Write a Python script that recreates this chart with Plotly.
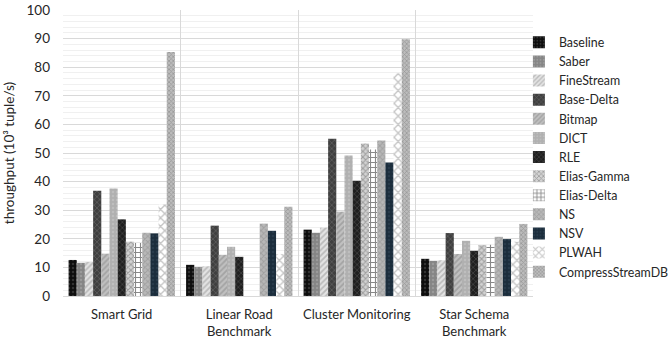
import plotly.graph_objects as go

categories = ["Smart Grid", "Linear Road<br>Benchmark", "Cluster Monitoring", "Star Schema<br>Benchmark"]
series_names = ["Baseline", "Saber", "FineStream", "Base-Delta", "Bitmap", "DICT", "RLE",
                "Elias-Gamma", "Elias-Delta", "NS", "NSV", "PLWAH", "CompressStreamDB"]
baseline = [12.6, 10.9, 23.2, 13.0]
saber = [11.6, 10.2, 22.1, 12.3]
finestream = [11.9, 10.4, 23.9, 12.5]
base_delta = [36.8, 24.6, 55.0, 22.0]
bitmap = [14.8, 14.4, 29.5, 14.7]
dict_ = [37.6, 17.2, 49.1, 19.3]
rle = [26.8, 13.7, 40.3, 15.8]
elias_gamma = [19.0, 0, 53.3, 17.8]
elias_delta = [18.6, 0, 51.2, 17.9]
ns = [22.1, 25.3, 54.4, 20.7]
nsv = [21.9, 22.8, 46.7, 19.9]
plwah = [32.0, 14.7, 77.9, 19.0]
compressstreamdb = [85.3, 31.2, 89.8, 25.2]
y_ticks = [0, 10, 20, 30, 40, 50, 60, 70, 80, 90, 100]

values = [baseline, saber, finestream, base_delta, bitmap, dict_, rle,
          elias_gamma, elias_delta, ns, nsv, plwah, compressstreamdb]

# (bgcolor, fgcolor, shape, size, solidity)
styles = [
    ("#0d0d0d", "#555555", ".", 4, 0.3),
    ("#858585", "#adadad", ".", 4, 0.3),
    ("#e3e3e3", "#939393", "/", 4, 0.45),
    ("#3f3f3f", "#767676", "x", 4, 0.4),
    ("#c0c0c0", "#858585", "/", 4, 0.45),
    ("#b0b0b0", "#cccccc", ".", 4, 0.3),
    ("#1f1f1f", "#666666", "x", 4, 0.35),
    ("#d3d3d3", "#666666", "x", 4, 0.45),
    ("#ffffff", "#111111", "+", 5, 0.4),
    ("#b8b8b8", "#888888", "x", 4, 0.45),
    ("#1b2d3c", "#33485a", ".", 4, 0.3),
    ("#ffffff", "#8c8c8c", "x", 6, 0.4),
    ("#bcbcbc", "#777777", "x", 3, 0.45),
]

fig = go.Figure()
for name, vals, (bg, fg, shape, size, sol) in zip(series_names, values, styles):
    fig.add_trace(go.Bar(
        name=name, x=categories, y=vals,
        marker=dict(color=bg, line=dict(width=0),
                    pattern=dict(shape=shape, fgcolor=fg, bgcolor=bg, size=size,
                                 solidity=sol, fillmode="overlay")),
    ))

font_family = "Lato, 'Open Sans', sans-serif"
fig.update_layout(
    width=669, height=339,
    margin=dict(l=63, r=136, t=10, b=43, autoexpand=False),
    paper_bgcolor="white", plot_bgcolor="white",
    barmode="group", bargap=0.095, bargroupgap=0,
    font=dict(family=font_family, size=13, color="#262626"),
    showlegend=True,
    legend=dict(x=0.970, xanchor="left", y=0.938, yanchor="top",
                font=dict(size=12.4, color="#262626"),
                itemwidth=30, tracegroupgap=0, bgcolor="rgba(0,0,0,0)"),
)
fig.update_xaxes(
    tickson="boundaries", showgrid=True, gridcolor="#d9d9d9", gridwidth=1,
    showline=True, linecolor="#d9d9d9", ticks="", tickfont=dict(size=13),
    tickangle=0, automargin=False, ticklabelstandoff=6,
)
fig.update_yaxes(
    range=[0, 100], tickvals=y_ticks, showgrid=True, gridcolor="#d9d9d9",
    minor=dict(dtick=2, showgrid=True, gridcolor="#f0f0f0"),
    zeroline=False, showline=False, ticks="", automargin=False,
    ticklabelstandoff=12,
    title=dict(text="throughput (10³ tuple/s)", font=dict(size=13.5), standoff=8),
    tickfont=dict(size=13.5),
)

fig.write_html("out.html", config={"displayModeBar": False},
               post_script="document.body.style.margin='0';")
